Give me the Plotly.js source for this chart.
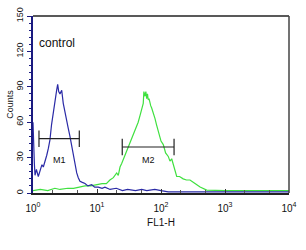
<!DOCTYPE html>
<html>
<head>
<meta charset="utf-8">
<script src="https://cdn.plot.ly/plotly-3.0.1.min.js"></script>
<style>html,body{margin:0;padding:0;background:#fff;}#chart{width:306px;height:250px;}</style>
</head>
<body>
<div id="chart"></div>
<script>
// Control (blue) histogram
var blueX = [1.0, 1.02, 1.05, 1.075, 1.13, 1.21, 1.3, 1.38, 1.45, 1.55, 1.64, 1.74, 1.84, 1.95, 2.08, 2.2, 2.34, 2.43, 2.52, 2.64, 2.81, 2.97, 3.15, 3.36, 3.55, 3.78, 4.0, 4.26, 4.5, 4.82, 5.1, 5.42, 5.9, 6.49, 7.2, 8.27, 9.2, 10.5, 12, 13.3, 16, 20, 25, 30, 40, 50, 60, 80, 100, 130, 200, 400, 1000, 3000, 10000];
var blueY = [60, 40, 25, 15, 20, 14, 19, 24, 22, 27, 32, 38, 45, 58, 70, 80, 87, 92, 86, 84, 87, 76, 70, 62, 55, 48, 40, 31, 24, 17, 13, 10, 9, 8, 6, 7, 5, 5, 4, 5, 3, 4, 2, 3, 2, 3, 2, 3, 2, 1, 1, 1, 1, 1, 1];
// Sample (green) histogram
var greenX = [1, 1.3, 1.7, 2.2, 2.64, 3.5, 4.3, 5.42, 6.5, 8, 10, 12, 14, 15.9, 18, 20.3, 21.5, 22.9, 24.3, 26.5, 29.2, 32, 34.9, 38, 41.7, 44, 47.2, 50, 52.8, 54, 56.2, 58, 59.7, 61.5, 63.1, 65, 67.1, 69, 71.5, 76, 80.6, 85, 90.7, 95, 100, 108.6, 118, 129.9, 138, 146.9, 160, 175.9, 195, 222, 250, 284, 340, 408, 518, 700, 1000, 2000, 4000, 10000];
var greenY = [2, 3, 2, 4, 3, 4, 4, 5, 6, 6, 7, 8, 8, 11, 13, 17, 15, 22, 25, 30, 35, 40, 45, 50, 56, 60, 66, 72, 76, 86, 82, 86, 80, 84, 79, 80, 75, 74, 72, 68, 63, 58, 53, 48, 44, 41, 34, 31, 27, 29, 22, 14, 14, 12, 11, 11, 8, 5, 2.5, 2, 2, 2, 2, 2];
// Gate markers
var m1Range = [1.24, 5.29], m1Level = 46;
var m2Range = [24.8, 160], m2Level = 39;
var xTickVals = [1, 10, 100, 1000, 10000];
var xTickText = ['10<sup>0</sup>', '10<sup>1</sup>', '10<sup>2</sup>', '10<sup>3</sup>', '10<sup>4</sup>'];
var yTickVals = [0, 30, 60, 90, 120, 150];

function gate(r, lvl) {
  var h = 7;
  return {
    x: [r[0], r[0], null, r[0], r[1], null, r[1], r[1]],
    y: [lvl - h, lvl + h, null, lvl, lvl, null, lvl - h, lvl + h],
    mode: 'lines', line: {color: '#222', width: 1.2}, hoverinfo: 'skip', showlegend: false
  };
}

var traces = [
  {x: greenX, y: greenY, mode: 'lines', line: {color: '#3fe03f', width: 1.2}, showlegend: false},
  {x: blueX, y: blueY, mode: 'lines', line: {color: '#2a2aa6', width: 1.2}, showlegend: false},
  gate(m1Range, m1Level),
  gate(m2Range, m2Level)
];

var layout = {
  width: 306, height: 250,
  margin: {l: 33, r: 17, t: 16, b: 57},
  paper_bgcolor: '#fff', plot_bgcolor: '#fff',
  font: {family: 'Liberation Sans, Arial, sans-serif', color: '#111'},
  xaxis: {
    type: 'log', range: [0, 4], tickvals: xTickVals, ticktext: xTickText,
    ticks: 'inside', ticklen: 4, tickcolor: '#333',
    minor: {ticks: 'inside', ticklen: 3, tickcolor: '#555', dtick: 'D2'},
    showgrid: false, zeroline: false, showline: true, linecolor: '#222', linewidth: 1.5,
    ticklabelstandoff: 5, tickfont: {size: 10, color: '#111'},
    title: {text: 'FL1-H', font: {size: 10, color: '#111'}, standoff: 6}
  },
  yaxis: {
    range: [0, 150], tickvals: yTickVals, tickangle: -90,
    ticks: 'outside', ticklen: 4, tickcolor: '#1a1a80',
    minor: {ticks: 'outside', ticklen: 2, tickcolor: '#1a1a80', dtick: 6},
    showgrid: false, zeroline: false, showline: true, linecolor: '#1a1a80', linewidth: 2,
    tickfont: {size: 9, color: '#111'},
    title: {text: 'Counts', font: {size: 9, color: '#111'}, standoff: 0}
  },
  shapes: [
    {type: 'line', xref: 'paper', yref: 'paper', x0: 0, x1: 1, y0: 1, y1: 1, line: {color: '#222', width: 1.5}},
    {type: 'line', xref: 'paper', yref: 'paper', x0: 1, x1: 1, y0: 0, y1: 1, line: {color: '#444', width: 1.5}}
  ],
  annotations: [
    {text: 'control', xref: 'x', yref: 'y', x: Math.log10(1.14), y: 127, xanchor: 'left', yanchor: 'middle', showarrow: false, font: {size: 12, color: '#111'}},
    {text: 'M1', xref: 'x', yref: 'y', x: Math.log10(2.55), y: 28, showarrow: false, font: {size: 9, color: '#111'}},
    {text: 'M2', xref: 'x', yref: 'y', x: Math.log10(62.8), y: 28, showarrow: false, font: {size: 9, color: '#111'}}
  ]
};

Plotly.newPlot('chart', traces, layout, {displayModeBar: false, staticPlot: true});
</script>
</body>
</html>
